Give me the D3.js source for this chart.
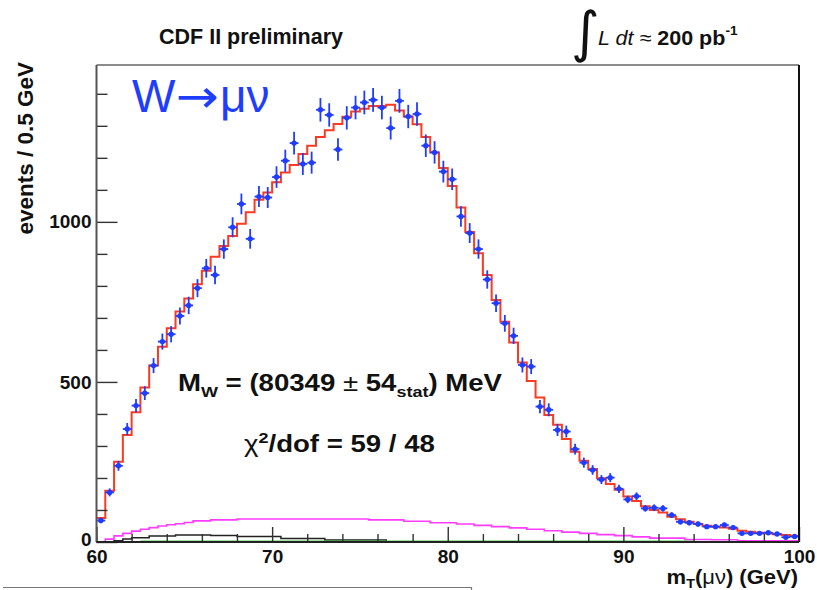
<!DOCTYPE html>
<html><head><meta charset="utf-8">
<script src="https://cdn.jsdelivr.net/npm/d3@7"></script>
<style>
body{margin:0;background:#fff;}
svg{display:block;font-family:"Liberation Sans",Arial,Helvetica,sans-serif;}
</style>
</head><body>
<svg id="c" width="817" height="590"></svg>
<script>
// ---- data (0.5 GeV bins from 60 to 100 GeV) ----
const binLow = d3.range(60, 100, 0.5);
const xMajorTicks = [60, 70, 80, 90, 100];
const xMinorTicks = [62,64,66,68,72,74,76,78,82,84,86,88,92,94,96,98];
const yMajorTicks = [0, 500, 1000];
const yMinorTicks = [100,200,300,400,600,700,800,900,1100,1200,1300,1400];

const dataCounts = [67,155,238,353,426,465,551,626,649,706,
  739,793,855,834,915,983,1056,947,1079,1076,
  1140,1191,1246,1181,1185,1350,1334,1226,1325,1357,
  1373,1381,1357,1293,1378,1329,1337,1238,1217,1157,
  1133,1017,965,915,820,746,683,644,553,548,
  423,413,350,345,290,248,225,195,201,166,
  133,143,105,107,105,84,63,60,56,48,
  48,53,45,27,27,27,29,25,15,17];

const fitPrediction = [75,160,251,334,405,483,551,610,668,720,
  761,805,847,891,925,956,994,1030,1069,1092,
  1124,1154,1178,1212,1238,1265,1286,1306,1328,1345,
  1353,1362,1362,1366,1348,1329,1305,1265,1217,1168,
  1112,1045,968,902,834,756,688,623,561,503,
  451,397,366,322,282,254,228,199,181,163,
  142,128,112,100,92,79,71,63,56,51,
  48,45,41,35,32,29,27,24,22,19];

const bkgMagenta = [0,9,19,27,34,40,45,50,54,57,
  61,66,66,69,69,69,72,72,72,72,
  72,72,72,72,72,72,72,72,72,72,
  72,69,69,69,69,65,65,65,60,60,
  60,56,56,52,52,48,48,44,44,40,
  40,35,35,31,31,27,27,23,23,20,
  20,16,16,12,12,12,12,8,8,8,
  7,7,7,4,4,4,4,4,4,4];

const bkgBlack = [1,1,4,9,13,13,19,19,19,22,
  22,22,22,20,20,20,17,17,17,17,
  17,11,11,11,11,11,6,6,6,6,
  6,6,6,1,1,1,1,1,1,1,
  1,1,1,1,1,1,1,1,1,1,
  1,1,1,1,1,1,1,1,1,1,
  1,1,1,1,1,1,1,1,1,1,
  1,1,1,1,1,1,1,1,1,1];

const bkgGreen = [null,null,null,null,null,0.5,0.5,0.5,0.5,0.5,
  0.5,0.5,0.5,0.5,0.5,0.5,0.5,0.5,0.5,0.5,
  0.5,0.5,0.5,0.5,0.5,0.5,0.5,0.5,0.5,0.5,
  0.5,0.5,0.5,0.5,0.5,0.5,0.5,0.5,0.5,0.5,
  0.5,0.5,0.5,0.5,0.5,0.5,0.5,0.5,0.5,0.5,
  0.5,0.5,0.5,0.5,0.5,0.5,0.5,0.5,0.5,0.5,
  0.5,0.5,0.5,0.5,0.5,0.5,0.5,0.5,null,null,
  null,null,null,null,null,null,null,null,null,null];

// ---- drawing ----
const svg = d3.select('#c');
const x = d3.scaleLinear().domain([60, 100]).range([96.5, 799]);
const y = d3.scaleLinear().domain([0, 1490]).range([542, 65]);
const BLUE = '#1f3dff', RED = '#fa3a22', MAG = '#ff3cff';

function stepPath(vals) {
  const segs = [];
  let cur = null;
  vals.forEach((v, i) => {
    if (v == null) { if (cur) { segs.push(cur); cur = null; } return; }
    if (!cur) cur = [];
    cur.push([binLow[i], v]);
    cur.push([binLow[i] + 0.5, v]);
  });
  if (cur) segs.push(cur);
  const line = d3.line().x(d => x(d[0])).y(d => y(d[1]));
  return segs.map(s => line(s)).join('');
}

// background histograms
svg.append('path').attr('d', stepPath(bkgBlack)).attr('fill', 'none')
  .attr('stroke', '#222').attr('stroke-width', 1.5);
svg.append('path').attr('d', stepPath(bkgGreen)).attr('fill', 'none')
  .attr('stroke', '#3cc83c').attr('stroke-width', 2.5);
svg.append('path').attr('d', stepPath(bkgMagenta)).attr('fill', 'none')
  .attr('stroke', MAG).attr('stroke-width', 1.6);

// fit histogram
svg.append('path').attr('d', stepPath(fitPrediction)).attr('fill', 'none')
  .attr('stroke', RED).attr('stroke-width', 2);

// data points
const pts = svg.append('g').attr('stroke', BLUE).attr('fill', BLUE);
dataCounts.forEach((v, i) => {
  const cx = x(binLow[i] + 0.25), e = Math.sqrt(v);
  pts.append('line').attr('x1', x(binLow[i])).attr('x2', x(binLow[i] + 0.5))
    .attr('y1', y(v)).attr('y2', y(v)).attr('stroke-width', 1.8);
  pts.append('line').attr('x1', cx).attr('x2', cx)
    .attr('y1', y(Math.max(0, v - e))).attr('y2', y(v + e)).attr('stroke-width', 1.8);
  pts.append('circle').attr('cx', cx).attr('cy', y(v)).attr('r', 2.7).attr('stroke', 'none');
});

// axes
const axStyle = g => {
  g.select('.domain').remove();
  g.selectAll('.tick line').attr('stroke', '#333').attr('stroke-width', 1.4);
  g.selectAll('.tick text').attr('fill', '#111').attr('font-size', 19)
    .attr('font-weight', 'bold').attr('font-family', '"Liberation Sans",Arial,sans-serif');
};
svg.append('g').attr('transform', 'translate(0,542)')
  .call(d3.axisBottom(x).tickValues(xMajorTicks).tickSizeInner(-15).tickSizeOuter(0)
    .tickPadding(7.5).tickFormat(d3.format('d'))).call(axStyle);
svg.append('g').attr('transform', 'translate(0,542)')
  .call(d3.axisBottom(x).tickValues(xMinorTicks).tickSizeInner(-8).tickSizeOuter(0)
    .tickFormat('')).call(axStyle);
const yAxG = svg.append('g').attr('transform', 'translate(96.5,0)')
  .call(d3.axisLeft(y).tickValues(yMajorTicks).tickSizeInner(-21).tickSizeOuter(0)
    .tickPadding(5).tickFormat(d3.format('d'))).call(axStyle);
yAxG.selectAll('.tick').filter(d => d === 0).select('text').attr('y', -3);
svg.append('g').attr('transform', 'translate(96.5,0)')
  .call(d3.axisLeft(y).tickValues(yMinorTicks).tickSizeInner(-11).tickSizeOuter(0)
    .tickFormat('')).call(axStyle);

// frame
const [x0, x1] = x.range(), [yb, yt] = y.range();
svg.append('line').attr('x1', x0).attr('x2', x1).attr('y1', yt).attr('y2', yt)
  .attr('stroke', '#666').attr('stroke-width', 1.5);
svg.append('line').attr('x1', x1).attr('x2', x1).attr('y1', yt).attr('y2', yb)
  .attr('stroke', '#111').attr('stroke-width', 2);
svg.append('line').attr('x1', x0).attr('x2', x0).attr('y1', yt).attr('y2', yb)
  .attr('stroke', '#555').attr('stroke-width', 2);
svg.append('line').attr('x1', x0).attr('x2', x1).attr('y1', yb).attr('y2', yb)
  .attr('stroke', '#222').attr('stroke-width', 1.8);

// partial box at bottom
svg.append('path').attr('d', 'M3,587.5H471.5V590').attr('fill', 'none')
  .attr('stroke', '#777').attr('stroke-width', 1.2);

// texts
svg.append('text').attr('x', 159).attr('y', 43.5).attr('font-size', 21.5)
  .attr('font-weight', 'bold').attr('fill', '#111').text('CDF II preliminary');

svg.append('text').attr('x', 571).attr('y', 51).attr('font-size', 55)
  .attr('font-family', '"DejaVu Sans",sans-serif').attr('fill', '#111').text('∫');
const lum = svg.append('text').attr('transform', 'translate(598,45) scale(1.05,1)')
  .attr('font-size', 20.5).attr('fill', '#111');
lum.append('tspan').attr('font-style', 'italic').text('L dt');
lum.append('tspan').text(' ≈ ');
lum.append('tspan').attr('font-weight', 'bold').text('200 pb');
lum.append('tspan').attr('font-weight', 'bold').attr('font-size', 13).attr('dy', -10).text('-1');

svg.append('text').attr('x', 132).attr('y', 111.5).attr('font-size', 46)
  .attr('fill', BLUE).text('W');
svg.append('text').attr('transform', 'translate(176,111.5) scale(1.12,1)')
  .attr('font-size', 46).attr('font-family', '"DejaVu Sans",sans-serif')
  .attr('fill', BLUE).text('→');
svg.append('text').attr('x', 220).attr('y', 111.5).attr('font-size', 46)
  .attr('fill', BLUE).text('μν');

const mw = svg.append('text').attr('transform', 'translate(178,391) scale(1.2,1)')
  .attr('font-size', 23).attr('font-weight', 'bold').attr('fill', '#111');
mw.append('tspan').text('M');
mw.append('tspan').attr('font-size', 15).attr('dy', 6).text('W');
mw.append('tspan').attr('dy', -6).text(' = (80349 ');
mw.append('tspan').attr('font-weight', 'normal').text('±');
mw.append('tspan').text(' 54');
mw.append('tspan').attr('font-size', 15).attr('dy', 6).text('stat');
mw.append('tspan').attr('dy', -6).text(') MeV');

const chi = svg.append('text').attr('transform', 'translate(244,452) scale(1.2,1)')
  .attr('font-size', 23).attr('font-weight', 'bold').attr('fill', '#111');
chi.append('tspan').attr('font-weight', 'normal').text('χ');
chi.append('tspan').attr('font-size', 15).attr('dy', -9).text('2');
chi.append('tspan').attr('dy', 9).text('/dof = 59 / 48');

svg.append('text').attr('transform', 'translate(33,62) rotate(-90)')
  .attr('text-anchor', 'end').attr('font-size', 22.5).attr('font-weight', 'bold')
  .attr('fill', '#111').text('events / 0.5 GeV');

const xt = svg.append('text').attr('transform', 'translate(798,584) scale(1.1,1)')
  .attr('text-anchor', 'end').attr('font-size', 20).attr('font-weight', 'bold').attr('fill', '#111');
xt.append('tspan').text('m');
xt.append('tspan').attr('font-size', 13).attr('dy', 4).text('T');
xt.append('tspan').attr('dy', -4).text('(');
xt.append('tspan').attr('font-weight', 'normal').text('μν');
xt.append('tspan').text(') (GeV)');
</script>
</body></html>
